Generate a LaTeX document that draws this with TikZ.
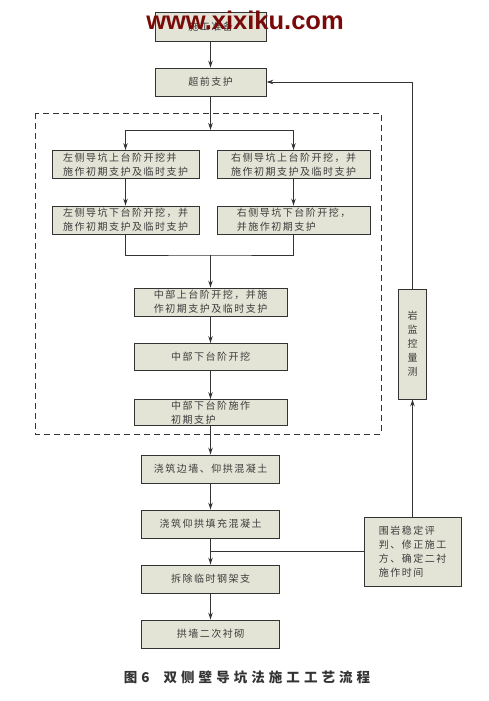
\documentclass[tikz,border=0pt]{standalone}
\usepackage{fontspec}
\usetikzlibrary{arrows.meta}
\newfontfamily\cjk[LetterSpace=15]{Noto Sans CJK SC}
\newfontfamily\cjkcap[LetterSpace=30]{Noto Sans CJK SC}
\newfontfamily\wmfont{Liberation Sans}
\definecolor{boxfill}{HTML}{E4E4D6}
\definecolor{boxline}{HTML}{333333}
\definecolor{txt}{HTML}{3C3C3C}
\definecolor{capcol}{HTML}{333333}
\definecolor{wmred}{HTML}{7A0A0A}
\tikzset{
  stepbox/.style={draw=boxline, fill=boxfill, line width=0.9pt, inner sep=0pt,
    text=txt, align=left, font=\cjk\fontsize{10}{14}\selectfont},
  conn/.style={draw=boxline, line width=0.9pt},
  arr/.style={conn, -{Stealth[length=7pt,width=4.5pt]}},
}
\begin{document}
\begin{tikzpicture}[x=1pt,y=-1pt]
\useasboundingbox (0,0) rectangle (489,701);
% dashed frame
\draw[boxline, line width=0.9pt, dash pattern=on 6pt off 4pt] (35,113) rectangle (381,434);
% nodes
\node[stepbox, minimum width=111pt, minimum height=29pt] (n0) at (210.5,26.5) {施工准备};
\node[stepbox, minimum width=111pt, minimum height=28pt] (n1) at (210.5,82) {超前支护};
\node[stepbox, minimum width=147pt, minimum height=28pt] (l1) at (125.5,164.5) {左侧导坑上台阶开挖并\\施作初期支护及临时支护};
\node[stepbox, minimum width=153pt, minimum height=28pt] (r1) at (293.5,164.5) {右侧导坑上台阶开挖，并\\施作初期支护及临时支护};
\node[stepbox, minimum width=147pt, minimum height=28pt] (l2) at (125.5,220) {左侧导坑下台阶开挖，并\\施作初期支护及临时支护};
\node[stepbox, minimum width=153pt, minimum height=28pt] (r2) at (293.5,220) {右侧导坑下台阶开挖，\\并施作初期支护};
\node[stepbox, minimum width=153pt, minimum height=28pt] (c1) at (210.5,302) {中部上台阶开挖，并施\\作初期支护及临时支护};
\node[stepbox, minimum width=153pt, minimum height=27pt] (c2) at (210.5,357) {中部下台阶开挖};
\node[stepbox, minimum width=153pt, minimum height=26pt] (c3) at (210.5,412.5) {中部下台阶施作\\初期支护};
\node[stepbox, minimum width=138pt, minimum height=28pt] (d1) at (210.5,469) {浇筑边墙、仰拱混凝土};
\node[stepbox, minimum width=138pt, minimum height=28pt] (d2) at (210.5,524) {浇筑仰拱填充混凝土};
\node[stepbox, minimum width=138pt, minimum height=28pt] (d3) at (210.5,579) {拆除临时钢架支};
\node[stepbox, minimum width=138pt, minimum height=28pt] (d4) at (210.5,634) {拱墙二次衬砌};
\node[stepbox, minimum width=97pt, minimum height=69pt] (ev) at (412.5,551.5) {围岩稳定评\\判、修正施工\\方、确定二衬\\施作时间};
\node[stepbox, minimum width=28pt, minimum height=110pt, align=center] (mon) at (412.5,344) {岩\\监\\控\\量\\测};
% coordinates
\coordinate (split) at (210.5,130);
\coordinate (merge) at (210.5,255);
\coordinate (fbtop) at (412.5,82);
\coordinate (join) at (210.5,551.5);
% connectors
\draw[arr] (n0) -- (n1);
\draw[arr] (n1) -- (split);
\draw[arr] (split) -| (l1.north);
\draw[arr] (split) -| (r1.north);
\draw[arr] (l1) -- (l2);
\draw[arr] (r1) -- (r2);
\draw[conn] (l2.south) |- (merge) -| (r2.south);
\draw[arr] (merge) -- (c1.north);
\draw[arr] (c1) -- (c2);
\draw[arr] (c2) -- (c3);
\draw[arr] (c3) -- (d1);
\draw[arr] (d1) -- (d2);
\draw[arr] (d2) -- (d3);
\draw[arr] (d3) -- (d4);
\draw[conn] (ev.west) -- (join);
\draw[arr] (ev.north) -- (mon.south);
\draw[conn] (mon.north) -- (fbtop);
\draw[arr] (fbtop) -- (n1.east);
% watermark
\node[anchor=base, text=wmred, font=\wmfont\bfseries\fontsize{25.5}{25.5}\selectfont, inner sep=0pt] (wm) at (245,29.5) {www.xixiku.com};
% caption
\node[text=capcol, font=\cjkcap\bfseries\fontsize{13.5}{16}\selectfont, inner sep=0pt] (cap) at (247,677) {图6\hspace{14pt}双侧壁导坑法施工工艺流程};
\end{tikzpicture}
\end{document}
